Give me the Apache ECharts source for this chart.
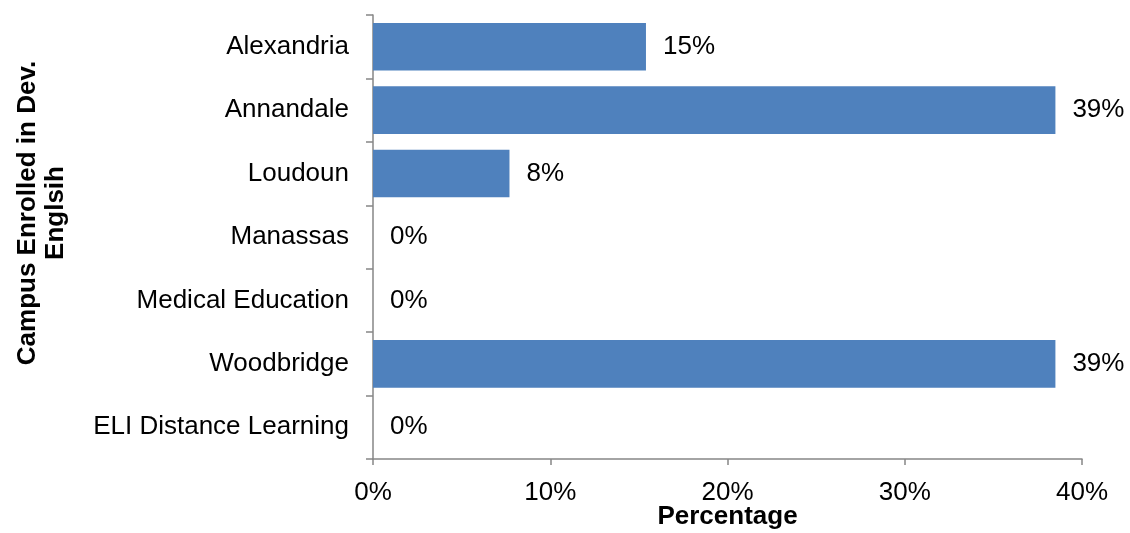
<!DOCTYPE html>
<html>
<head>
<meta charset="utf-8">
<script src="https://cdn.jsdelivr.net/npm/echarts@6/dist/echarts.min.js"></script>
<style>
  html, body { margin: 0; padding: 0; background: #ffffff; }
  #chart { width: 1130px; height: 533px; }
</style>
</head>
<body>
<div id="chart"></div>
<script>
// Campus share of students enrolled in developmental English
const campuses = [
  'Alexandria',
  'Annandale',
  'Loudoun',
  'Manassas',
  'Medical Education',
  'Woodbridge',
  'ELI Distance Learning'
];
const percentages = [15.4, 38.5, 7.7, 0, 0, 38.5, 0];

const xTicks = { min: 0, max: 40, step: 10 };
const xAxisTitle = 'Percentage';
const yAxisTitle = 'Campus Enrolled in Dev.\nEnglsih';

const FONT = '"Liberation Sans", Arial, sans-serif';
const AXIS_GRAY = '#868686';

const chart = echarts.init(document.getElementById('chart'), null, { renderer: 'canvas' });

chart.setOption({
  animation: false,
  backgroundColor: '#ffffff',
  grid: {
    left: 373, right: 48, top: 15, bottom: 74,
    containLabel: false,
    outerBoundsMode: 'none'
  },
  xAxis: {
    type: 'value',
    min: xTicks.min,
    max: xTicks.max,
    interval: xTicks.step,
    name: xAxisTitle,
    nameLocation: 'middle',
    nameGap: 45,
    nameMoveOverlap: false,
    nameTextStyle: { fontFamily: FONT, fontSize: 26, fontWeight: 'bold', color: '#000' },
    axisLine: { show: true, lineStyle: { color: AXIS_GRAY, width: 1.5 } },
    axisTick: { show: true, length: 6, lineStyle: { color: AXIS_GRAY, width: 1.5 } },
    axisLabel: {
      margin: 21,
      fontFamily: FONT,
      fontSize: 26,
      color: '#000',
      formatter: '{value}%'
    },
    splitLine: { show: false }
  },
  yAxis: {
    type: 'category',
    data: campuses,
    inverse: true,
    axisLine: { show: true, lineStyle: { color: AXIS_GRAY, width: 1.5 } },
    axisTick: { show: true, length: 7, alignWithLabel: false, lineStyle: { color: AXIS_GRAY, width: 1.5 } },
    axisLabel: {
      margin: 24,
      fontFamily: FONT,
      fontSize: 26,
      color: '#000'
    },
    splitLine: { show: false }
  },
  series: [{
    type: 'bar',
    data: percentages,
    barCategoryGap: '25%',
    itemStyle: { color: '#4F81BD' },
    label: {
      show: true,
      position: 'right',
      distance: 17,
      fontFamily: FONT,
      fontSize: 26,
      color: '#000',
      formatter: p => Math.round(p.value) + '%'
    }
  }],
  graphic: [{
    type: 'text',
    x: 42,
    y: 213,
    rotation: Math.PI / 2,
    style: {
      text: yAxisTitle,
      fontFamily: FONT,
      fontSize: 26,
      fontWeight: 'bold',
      fill: '#000',
      align: 'center',
      verticalAlign: 'middle',
      lineHeight: 28
    }
  }]
});
</script>
</body>
</html>
